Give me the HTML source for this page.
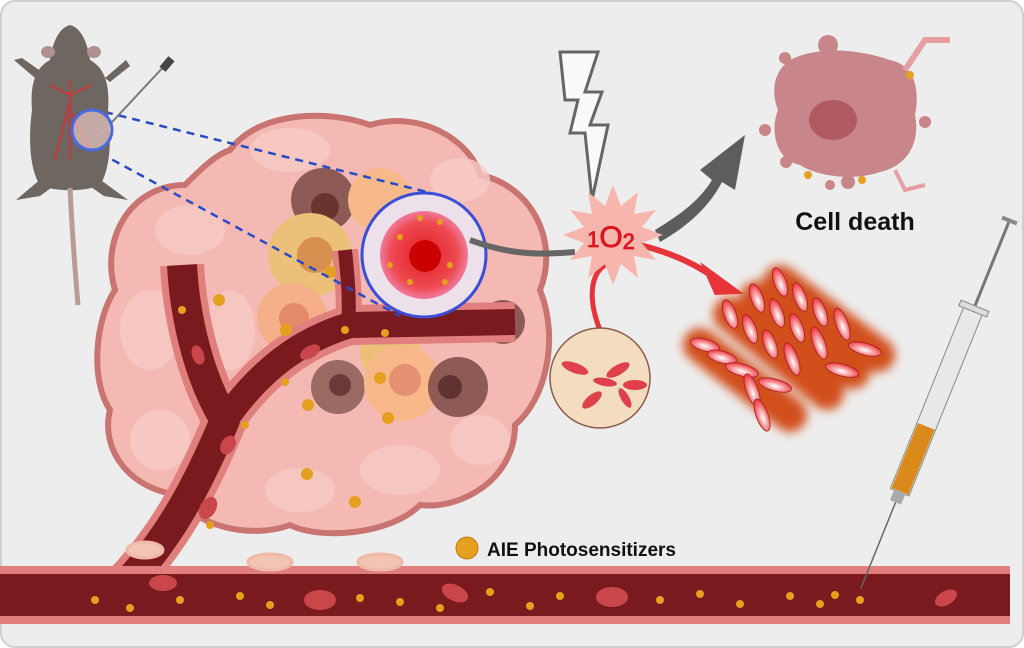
<!DOCTYPE html>
<html><head><meta charset="utf-8"><style>
html,body{margin:0;padding:0;background:#fff;}
svg{display:block;}
</style></head><body>
<svg width="1024" height="648" viewBox="0 0 1024 648" xmlns="http://www.w3.org/2000/svg">
<defs>
<filter id="blur" x="-30%" y="-30%" width="160%" height="160%"><feGaussianBlur stdDeviation="5"/></filter>
<radialGradient id="mag" cx="50%" cy="50%" r="50%"><stop offset="0" stop-color="#c00"/><stop offset="0.35" stop-color="#e8323a"/><stop offset="0.75" stop-color="#ee4a52"/><stop offset="1" stop-color="#f07a9a"/></radialGradient>
<radialGradient id="pet" cx="50%" cy="60%" r="60%"><stop offset="0" stop-color="#fff"/><stop offset="1" stop-color="#ee3038"/></radialGradient>
</defs>
<rect x="1" y="1" width="1022" height="646" rx="14" fill="#eeeded" stroke="#cfcfcf" stroke-width="2"/>

<!-- tumor -->
<path d="M230,150 C260,110 330,110 370,125 C420,110 470,140 480,175 C530,185 560,240 540,290 C560,340 545,400 515,425 C515,480 460,510 420,505 C390,535 320,540 290,525 C250,540 190,525 180,495 C130,490 100,450 110,410 C90,380 95,320 115,290 C100,240 130,185 185,185 C200,170 215,155 230,150 Z" fill="#f4b9b3" stroke="#c97470" stroke-width="6"/>
<g fill="#f7cbc5" opacity="0.8">
<ellipse cx="290" cy="150" rx="40" ry="22"/><ellipse cx="190" cy="230" rx="35" ry="25"/><ellipse cx="150" cy="330" rx="30" ry="40"/><ellipse cx="160" cy="440" rx="30" ry="30"/><ellipse cx="400" cy="470" rx="40" ry="25"/><ellipse cx="480" cy="440" rx="30" ry="25"/><ellipse cx="460" cy="180" rx="30" ry="22"/><ellipse cx="300" cy="490" rx="35" ry="22"/><ellipse cx="230" cy="330" rx="25" ry="40"/>
</g>
<!-- tumor cells -->
<g>
<circle cx="323" cy="200" r="32" fill="#8d5a55"/><circle cx="325" cy="207" r="14" fill="#6a3330"/>
<circle cx="380" cy="200" r="32" fill="#f7b88a"/>
<circle cx="310" cy="255" r="42" fill="#edc07a"/><circle cx="315" cy="255" r="18" fill="#d79050"/>
<circle cx="292" cy="318" r="35" fill="#f5b08a"/><circle cx="294" cy="318" r="15" fill="#e58a68"/>
<circle cx="390" cy="352" r="30" fill="#edc07a"/>
<circle cx="338" cy="387" r="27" fill="#9b6a63"/><circle cx="340" cy="385" r="11" fill="#6a3a36"/>
<circle cx="402" cy="383" r="38" fill="#f9b88a"/><circle cx="405" cy="380" r="16" fill="#e59070"/>
<circle cx="458" cy="387" r="30" fill="#8d5a55"/><circle cx="450" cy="387" r="12" fill="#5e3330"/>
<circle cx="503" cy="322" r="22" fill="#8d5a55"/>
</g>
<!-- vessels in tumor -->
<g fill="none" stroke-linecap="butt" stroke-linejoin="round">
<path d="M120,590 C170,540 200,480 225,420 C200,380 185,320 182,265" stroke="#e07f7e" stroke-width="44"/>
<path d="M225,420 C260,370 300,340 350,325 L515,322" stroke="#e07f7e" stroke-width="40"/>
<path d="M348,330 C350,300 348,280 345,250" stroke="#e07f7e" stroke-width="26"/>
<path d="M120,590 C170,540 200,480 225,420 C200,380 185,320 182,265" stroke="#7a1a1f" stroke-width="30"/>
<path d="M225,420 C260,370 300,340 350,325 L515,322" stroke="#7a1a1f" stroke-width="26"/>
<path d="M348,330 C350,300 348,280 345,250" stroke="#7a1a1f" stroke-width="14"/>
</g>
<!-- bottom vessel -->
<rect x="0" y="566" width="1010" height="58" fill="#e07f7e"/>
<rect x="0" y="574" width="1010" height="42" fill="#7a1a1f"/>
<g fill="#c9474a">
<ellipse cx="163" cy="583" rx="14" ry="8"/><ellipse cx="320" cy="600" rx="16" ry="10"/><ellipse cx="455" cy="593" rx="14" ry="8" transform="rotate(25 455 593)"/><ellipse cx="612" cy="597" rx="16" ry="10"/><ellipse cx="946" cy="598" rx="12" ry="7" transform="rotate(-30 946 598)"/><ellipse cx="208" cy="508" rx="12" ry="8" transform="rotate(-60 208 508)"/><ellipse cx="228" cy="445" rx="10" ry="7" transform="rotate(-60 228 445)"/><ellipse cx="198" cy="355" rx="10" ry="6" transform="rotate(70 198 355)"/><ellipse cx="310" cy="352" rx="11" ry="6" transform="rotate(-30 310 352)"/>
</g>
<g fill="#e5a020">
<circle cx="95" cy="600" r="4"/><circle cx="130" cy="608" r="4"/><circle cx="180" cy="600" r="4"/><circle cx="240" cy="596" r="4"/><circle cx="270" cy="605" r="4"/><circle cx="360" cy="598" r="4"/><circle cx="400" cy="602" r="4"/><circle cx="440" cy="608" r="4"/><circle cx="490" cy="592" r="4"/><circle cx="530" cy="606" r="4"/><circle cx="560" cy="596" r="4"/><circle cx="660" cy="600" r="4"/><circle cx="700" cy="594" r="4"/><circle cx="740" cy="604" r="4"/><circle cx="790" cy="596" r="4"/><circle cx="820" cy="604" r="4"/><circle cx="835" cy="595" r="4"/><circle cx="860" cy="600" r="4"/>
<circle cx="219" cy="300" r="6"/><circle cx="307" cy="474" r="6"/><circle cx="355" cy="502" r="6"/><circle cx="380" cy="378" r="6"/><circle cx="388" cy="418" r="6"/><circle cx="286" cy="330" r="6"/><circle cx="330" cy="272" r="6"/><circle cx="308" cy="405" r="6"/><circle cx="210" cy="525" r="4"/><circle cx="182" cy="310" r="4"/><circle cx="245" cy="425" r="4"/><circle cx="285" cy="382" r="4"/><circle cx="345" cy="330" r="4"/><circle cx="385" cy="333" r="4"/>
</g>
<!-- cells on vessel -->
<g stroke="#f0b8a8" stroke-width="3" fill="#f2c4b4">
<ellipse cx="145" cy="550" rx="18" ry="8"/><ellipse cx="270" cy="562" rx="22" ry="8"/><ellipse cx="380" cy="562" rx="22" ry="8"/>
</g>
<!-- magnified circle -->
<circle cx="424" cy="255" r="62" fill="#ece0ea" stroke="#3a4ed8" stroke-width="3"/>
<circle cx="424" cy="255" r="44" fill="url(#mag)"/>
<circle cx="425" cy="256" r="16" fill="#c00"/>
<g fill="#e5a020"><circle cx="400" cy="237" r="3"/><circle cx="420" cy="218" r="3"/><circle cx="440" cy="222" r="3"/><circle cx="450" cy="265" r="3"/><circle cx="410" cy="282" r="3"/><circle cx="390" cy="265" r="3"/><circle cx="445" cy="282" r="3"/></g>
<!-- dashed lines -->
<g stroke="#2a4bc8" stroke-width="2.5" stroke-dasharray="8,6" fill="none">
<line x1="105" y1="112" x2="427" y2="192"/><line x1="100" y1="153" x2="400" y2="316"/>
</g>
<!-- mouse -->
<g fill="#6e6660">
<path d="M70,25 C82,28 88,45 90,60 C105,68 110,85 108,110 C112,140 110,170 100,185 C85,192 55,192 40,185 C30,170 28,140 32,110 C30,85 35,68 50,60 C52,45 58,28 70,25Z"/>
<path d="M35,78 L14,60 L22,58 L42,72Z"/><path d="M105,78 L126,60 L130,66 L110,82Z"/>
<path d="M42,178 L16,200 L40,196 L55,185Z"/><path d="M98,178 L128,200 L104,196 L88,185Z"/>
</g>
<ellipse cx="48" cy="52" rx="7" ry="6" fill="#b09090"/><ellipse cx="94" cy="52" rx="7" ry="6" fill="#b09090"/>
<path d="M70,188 C72,230 75,270 78,305" stroke="#b99d95" stroke-width="5" fill="none"/>
<path d="M70,80 L70,160 M70,100 L55,160 M70,110 L90,150 M70,95 L50,85 M70,95 L92,85" stroke="#c8373d" stroke-width="2" fill="none"/>
<line x1="100" y1="135" x2="168" y2="62" stroke="#7a7a7a" stroke-width="2"/>
<rect x="163" y="57" width="8" height="14" fill="#444" transform="rotate(40 167 64)"/>
<circle cx="92" cy="130" r="20" fill="#e8c8c4" fill-opacity="0.7" stroke="#4a6ae0" stroke-width="3"/>
<!-- gray line to starburst -->
<path d="M470,240 C510,255 540,255 575,252" stroke="#666" stroke-width="6" fill="none"/>
<!-- lightning -->
<path d="M560,52 L598,52 L585,92 L602,92 L590,125 L608,125 L592,200 L585,133 L570,133 L578,100 L565,100 Z" fill="#fafafa" stroke="#666" stroke-width="3"/>
<!-- gray arrow -->
<path d="M655,230 C680,215 700,200 712,180 L700,170 L745,135 L735,190 L722,182 C710,205 690,225 660,242 Z" fill="#5d5d5d"/>
<!-- red arrows -->
<path d="M640,245 C680,255 705,270 720,282" stroke="#e8333a" stroke-width="6" fill="none"/>
<path d="M705,268 L738,292 L716,293Z" fill="#e8333a" stroke="#e8333a" stroke-width="4"/>
<path d="M600,330 C588,300 590,275 605,265" stroke="#e8333a" stroke-width="5" fill="none"/>
<!-- starburst -->
<polygon points="663,235 642,243 656,260 634,256 638,278 621,264 613,285 605,264 588,278 592,256 570,260 584,243 563,235 584,227 570,210 592,214 588,192 605,206 613,185 621,206 638,192 634,214 656,210 642,227" fill="#f7b6ad"/>
<text x="611" y="247" text-anchor="middle" font-family="Liberation Sans, sans-serif" font-size="30" fill="#e0141c" stroke="#e0141c" stroke-width="0.8"><tspan font-size="22">1</tspan>O<tspan font-size="22" dy="2">2</tspan></text>
<!-- beige circle -->
<circle cx="600" cy="378" r="50" fill="#f3dcc0" stroke="#8a5a4a" stroke-width="1.5"/>
<g fill="#e0404a">
<ellipse cx="575" cy="368" rx="14" ry="5" transform="rotate(20 575 368)"/><ellipse cx="592" cy="400" rx="12" ry="5" transform="rotate(-40 592 400)"/><ellipse cx="618" cy="370" rx="13" ry="5" transform="rotate(-30 618 370)"/><ellipse cx="635" cy="385" rx="12" ry="5"/><ellipse cx="625" cy="398" rx="11" ry="4" transform="rotate(60 625 398)"/><ellipse cx="605" cy="382" rx="12" ry="4" transform="rotate(10 605 382)"/>
</g>
<!-- crystal stacks -->
<g filter="url(#blur)" stroke="#d2501e" stroke-width="34" stroke-linecap="round" fill="none">
<line x1="780" y1="282" x2="878" y2="355"/><line x1="757" y1="298" x2="853" y2="372"/><line x1="730" y1="314" x2="827" y2="393"/><line x1="700" y1="345" x2="790" y2="415"/>
</g>
<g fill="url(#pet)" stroke="#a02020" stroke-width="0.8">
<g transform="translate(780,282)"><ellipse cx="0" cy="0" rx="6" ry="15" transform="rotate(-20)"/><ellipse cx="20" cy="15" rx="6" ry="15" transform="rotate(-20 20 15)"/><ellipse cx="40" cy="30" rx="6" ry="15" transform="rotate(-20 40 30)"/><ellipse cx="62" cy="42" rx="6" ry="17" transform="rotate(-20 62 42)"/><ellipse cx="85" cy="67" rx="17" ry="6" transform="rotate(15 85 67)"/></g>
<g transform="translate(757,298)"><ellipse cx="0" cy="0" rx="6" ry="15" transform="rotate(-20)"/><ellipse cx="20" cy="15" rx="6" ry="15" transform="rotate(-20 20 15)"/><ellipse cx="40" cy="30" rx="6" ry="15" transform="rotate(-20 40 30)"/><ellipse cx="62" cy="45" rx="6" ry="17" transform="rotate(-20 62 45)"/><ellipse cx="85" cy="72" rx="17" ry="6" transform="rotate(15 85 72)"/></g>
<g transform="translate(730,314)"><ellipse cx="0" cy="0" rx="6" ry="15" transform="rotate(-20)"/><ellipse cx="20" cy="15" rx="6" ry="15" transform="rotate(-20 20 15)"/><ellipse cx="40" cy="30" rx="6" ry="15" transform="rotate(-20 40 30)"/><ellipse cx="62" cy="45" rx="6" ry="17" transform="rotate(-20 62 45)"/></g>
<g transform="translate(700,345)"><ellipse cx="5" cy="0" rx="15" ry="6" transform="rotate(15 5 0)"/><ellipse cx="22" cy="12" rx="15" ry="6" transform="rotate(15 22 12)"/><ellipse cx="42" cy="25" rx="17" ry="6" transform="rotate(15 42 25)"/><ellipse cx="75" cy="40" rx="17" ry="6" transform="rotate(15 75 40)"/><ellipse cx="52" cy="45" rx="6" ry="17" transform="rotate(-20 52 45)"/><ellipse cx="62" cy="70" rx="6" ry="17" transform="rotate(-20 62 70)"/></g>
</g>
<!-- cell death -->
<path d="M790,60 C820,45 860,50 890,60 C915,65 920,90 915,115 C920,140 910,165 880,172 C850,182 815,175 800,165 C775,160 770,130 778,110 C770,90 775,70 790,60Z" fill="#c9868a"/>
<ellipse cx="833" cy="120" rx="24" ry="20" fill="#b25a62"/>
<g fill="#c9868a"><circle cx="828" cy="45" r="10"/><circle cx="785" cy="58" r="6"/><circle cx="785" cy="78" r="5"/><circle cx="765" cy="130" r="6"/><circle cx="925" cy="122" r="6"/><circle cx="786" cy="162" r="6"/><circle cx="848" cy="182" r="7"/><circle cx="830" cy="185" r="5"/></g>
<path d="M905,70 L925,40 L950,40" stroke="#e6a0a4" stroke-width="6" fill="none"/>
<path d="M895,170 L905,190 L925,185" stroke="#e6a0a4" stroke-width="4" fill="none"/>
<g fill="#e5a020"><circle cx="910" cy="75" r="4"/><circle cx="808" cy="175" r="4"/><circle cx="862" cy="180" r="4"/></g>
<text x="855" y="230" text-anchor="middle" font-family="Liberation Sans, sans-serif" font-weight="bold" font-size="25" fill="#111">Cell death</text>
<!-- syringe -->
<g transform="rotate(22 945 380)">
<line x1="945" y1="210" x2="945" y2="300" stroke="#777" stroke-width="3"/>
<rect x="937" y="206" width="16" height="4" fill="#888"/>
<rect x="930" y="300" width="30" height="6" fill="#ddd" stroke="#888"/>
<rect x="935" y="306" width="20" height="195" fill="#e8e8e8" stroke="#888"/>
<rect x="936" y="430" width="18" height="70" fill="#d98a1a"/>
<rect x="939" y="500" width="12" height="12" fill="#aaa"/>
<line x1="945" y1="512" x2="945" y2="605" stroke="#666" stroke-width="1.5"/>
</g>
<!-- legend -->
<circle cx="467" cy="548" r="11" fill="#e5a020" stroke="#c07a10"/>
<text x="487" y="556" font-family="Liberation Sans, sans-serif" font-weight="bold" font-size="19" fill="#111">AIE Photosensitizers</text>
</svg>
</body></html>
